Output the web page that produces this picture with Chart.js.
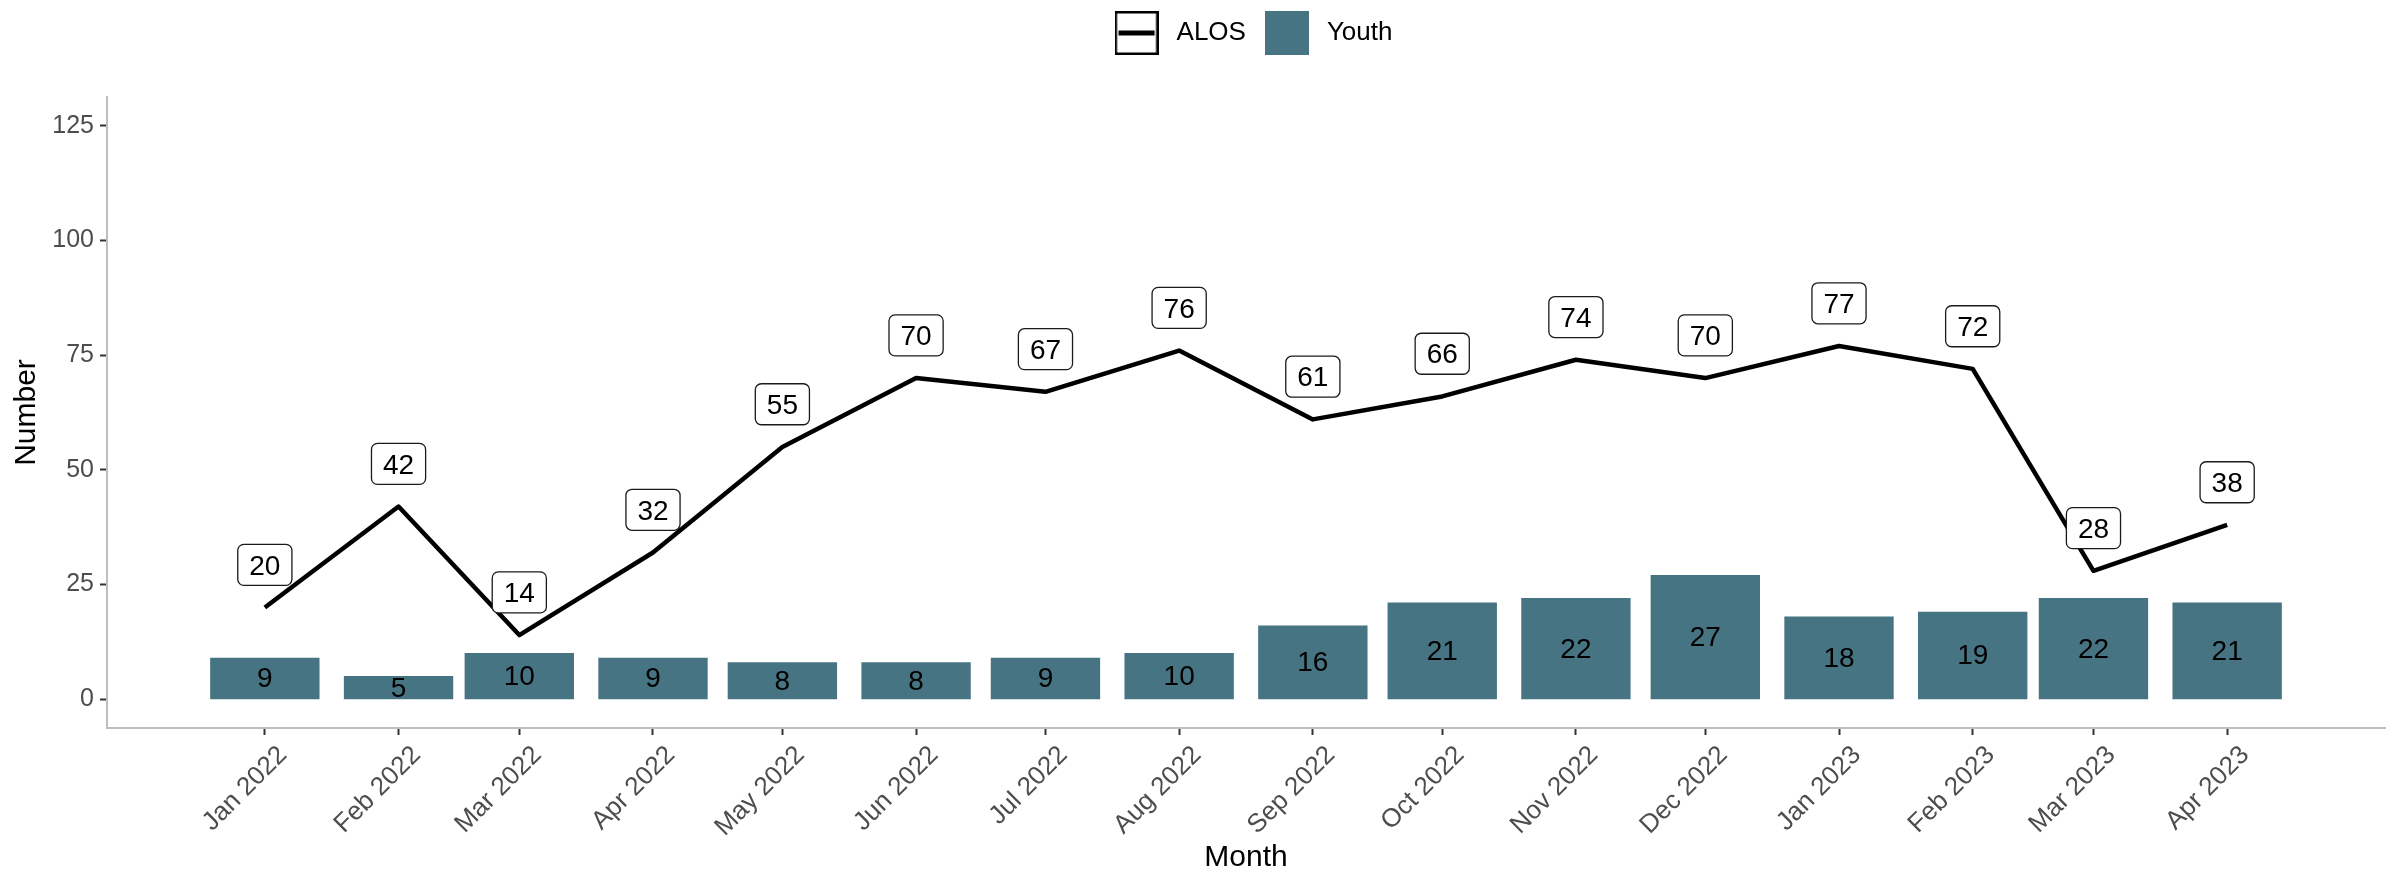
<!DOCTYPE html>
<html>
<head>
<meta charset="utf-8">
<script src="https://cdn.jsdelivr.net/npm/chart.js@4.4.0/dist/chart.umd.min.js"></script>
<style>
html,body{margin:0;padding:0;background:#ffffff;}
canvas{display:block;}
</style>
</head>
<body>
<canvas id="c" width="2400" height="873"></canvas>
<script>
// ---------- data ----------
const months = ['2022-01-01','2022-02-01','2022-03-01','2022-04-01','2022-05-01','2022-06-01','2022-07-01','2022-08-01',
                '2022-09-01','2022-10-01','2022-11-01','2022-12-01','2023-01-01','2023-02-01','2023-03-01','2023-04-01'];
const monthLabels = ['Jan 2022','Feb 2022','Mar 2022','Apr 2022','May 2022','Jun 2022','Jul 2022','Aug 2022',
                     'Sep 2022','Oct 2022','Nov 2022','Dec 2022','Jan 2023','Feb 2023','Mar 2023','Apr 2023'];
const alos  = [20, 42, 14, 32, 55, 70, 67, 76, 61, 66, 74, 70, 77, 72, 28, 38];
const youth = [9, 5, 10, 9, 8, 8, 9, 10, 16, 21, 22, 27, 18, 19, 22, 21];
const yTicks = [0, 25, 50, 75, 100, 125];
const seriesNames = ['ALOS', 'Youth'];

// ---------- settings ----------
const TEAL = '#467482';
const FONT = '"Liberation Sans", Arial, sans-serif';
const labelNudge = 9.3;         // ALOS label offset above the point (data units)
const yMin = -6.25, yMax = 131.25;
const xMin = -36.6, xMax = 491.6; // days relative to first month (ggplot 5% expansion)

const DAY = 86400000;
const t0 = Date.parse(months[0]);
const xDays = months.map(m => (Date.parse(m) - t0) / DAY);

function makeKey(kind) {
  const c = document.createElement('canvas');
  c.width = 44; c.height = 44;
  const g = c.getContext('2d');
  if (kind === 'line') {
    g.fillStyle = '#ffffff'; g.fillRect(1, 1, 42, 42);
    g.strokeStyle = '#000000'; g.lineWidth = 2.5; g.strokeRect(1.25, 1.25, 41.5, 41.5);
    g.fillStyle = '#000000'; g.fillRect(4, 19.5, 36, 5);
  } else {
    g.fillStyle = TEAL; g.fillRect(0, 0, 44, 44);
  }
  return c;
}
const lineKey = makeKey('line');
const barKey = makeKey('bar');

function roundRect(ctx, x, y, w, h, r) {
  ctx.beginPath();
  ctx.moveTo(x + r, y);
  ctx.lineTo(x + w - r, y);
  ctx.arcTo(x + w, y, x + w, y + r, r);
  ctx.lineTo(x + w, y + h - r);
  ctx.arcTo(x + w, y + h, x + w - r, y + h, r);
  ctx.lineTo(x + r, y + h);
  ctx.arcTo(x, y + h, x, y + h - r, r);
  ctx.lineTo(x, y + r);
  ctx.arcTo(x, y, x + r, y, r);
  ctx.closePath();
}

const legendSpacer = {
  id: 'legendSpacer',
  beforeLayout(chart) {
    const lg = chart.legend;
    if (lg && !lg._spaced) {
      const f = lg.fit;
      lg.fit = function () { f.call(this); this.height = 91; };
      const d = lg.draw;
      lg.draw = function () {
        this.ctx.save();
        this.ctx.translate(5, 0);
        d.apply(this, arguments);
        this.ctx.restore();
      };
      lg._spaced = true;
    }
  }
};

const valueLabels = {
  id: 'valueLabels',
  afterDatasetsDraw(chart) {
    const ctx = chart.ctx;
    const ys = chart.scales.y;
    ctx.save();
    ctx.font = '28px ' + FONT;
    ctx.textAlign = 'center';
    ctx.textBaseline = 'middle';
    // bar labels (middle of bar)
    chart.getDatasetMeta(1).data.forEach((el, i) => {
      ctx.fillStyle = '#000000';
      ctx.fillText(String(youth[i]), el.x, ys.getPixelForValue(youth[i] / 2) + 1);
    });
    // ALOS labels (boxed, above the point)
    chart.getDatasetMeta(0).data.forEach((el, i) => {
      const txt = String(alos[i]);
      const cy = ys.getPixelForValue(alos[i] + labelNudge);
      const w = ctx.measureText(txt).width + 23;
      const h = 41;
      roundRect(ctx, el.x - w / 2, cy - h / 2, w, h, 6);
      ctx.fillStyle = '#ffffff';
      ctx.fill();
      ctx.lineWidth = 1.3;
      ctx.strokeStyle = '#1a1a1a';
      ctx.stroke();
      ctx.fillStyle = '#000000';
      ctx.fillText(txt, el.x, cy + 2);
    });
    ctx.restore();
  }
};

new Chart(document.getElementById('c'), {
  type: 'bar',
  data: {
    datasets: [
      {
        type: 'line',
        label: seriesNames[0],
        data: xDays.map((x, i) => ({ x: x, y: alos[i] })),
        borderColor: '#000000',
        borderWidth: 4.5,
        pointRadius: 0,
        pointHoverRadius: 0,
        borderJoinStyle: 'round',
        borderCapStyle: 'butt',
        tension: 0,
        fill: false
      },
      {
        type: 'bar',
        label: seriesNames[1],
        data: xDays.map((x, i) => ({ x: x, y: youth[i] })),
        backgroundColor: TEAL,
        borderWidth: 0,
        barThickness: 108.7
      }
    ]
  },
  options: {
    responsive: false,
    animation: false,
    devicePixelRatio: 1,
    layout: { padding: { top: 6, right: 15, bottom: 0, left: 0 } },
    plugins: {
      tooltip: { enabled: false },
      legend: {
        position: 'top',
        fullSize: false,
        align: 'center',
        labels: {
          usePointStyle: true,
          pointStyleWidth: 54,
          padding: 14,
          color: '#000000',
          font: { family: FONT, size: 26 },
          generateLabels: () => [
            { text: seriesNames[0], pointStyle: lineKey, fillStyle: '#ffffff', strokeStyle: '#000000', lineWidth: 0, hidden: false, datasetIndex: 0 },
            { text: seriesNames[1], pointStyle: barKey, fillStyle: TEAL, strokeStyle: TEAL, lineWidth: 0, hidden: false, datasetIndex: 1 }
          ]
        }
      }
    },
    scales: {
      x: {
        type: 'linear',
        min: xMin,
        max: xMax,
        offset: false,
        afterBuildTicks: (s) => { s.ticks = xDays.map(v => ({ value: v })); },
        afterFit: (s) => { s.height = 145; },
        ticks: {
          autoSkip: false,
          minRotation: 45,
          maxRotation: 45,
          padding: 5,
          labelOffset: 18,
          color: '#4d4d4d',
          font: { family: FONT, size: 26 },
          callback: (v, i) => monthLabels[i]
        },
        grid: { offset: false, drawOnChartArea: false, drawTicks: true, tickLength: 7, tickWidth: 2, tickColor: '#333333', color: '#333333' },
        border: { display: true, color: '#bebebe', width: 2 },
        title: { display: true, text: 'Month', color: '#000000', font: { family: FONT, size: 30, lineHeight: 1 }, padding: { top: 0, bottom: 0 } }
      },
      y: {
        type: 'linear',
        min: yMin,
        max: yMax,
        afterBuildTicks: (s) => { s.ticks = yTicks.map(v => ({ value: v })); },
        afterFit: (s) => { s.width = 107; },
        ticks: {
          padding: 6,
          color: '#4d4d4d',
          font: { family: FONT, size: 25 },
          callback: (v) => String(v)
        },
        grid: { offset: false, drawOnChartArea: false, drawTicks: true, tickLength: 7, tickWidth: 2, tickColor: '#333333', color: '#333333' },
        border: { display: true, color: '#bebebe', width: 2 },
        title: { display: true, text: 'Number', color: '#000000', font: { family: FONT, size: 30, lineHeight: 1 }, padding: { top: 12, bottom: 0 } }
      }
    }
  },
  plugins: [legendSpacer, valueLabels]
});
</script>
</body>
</html>
